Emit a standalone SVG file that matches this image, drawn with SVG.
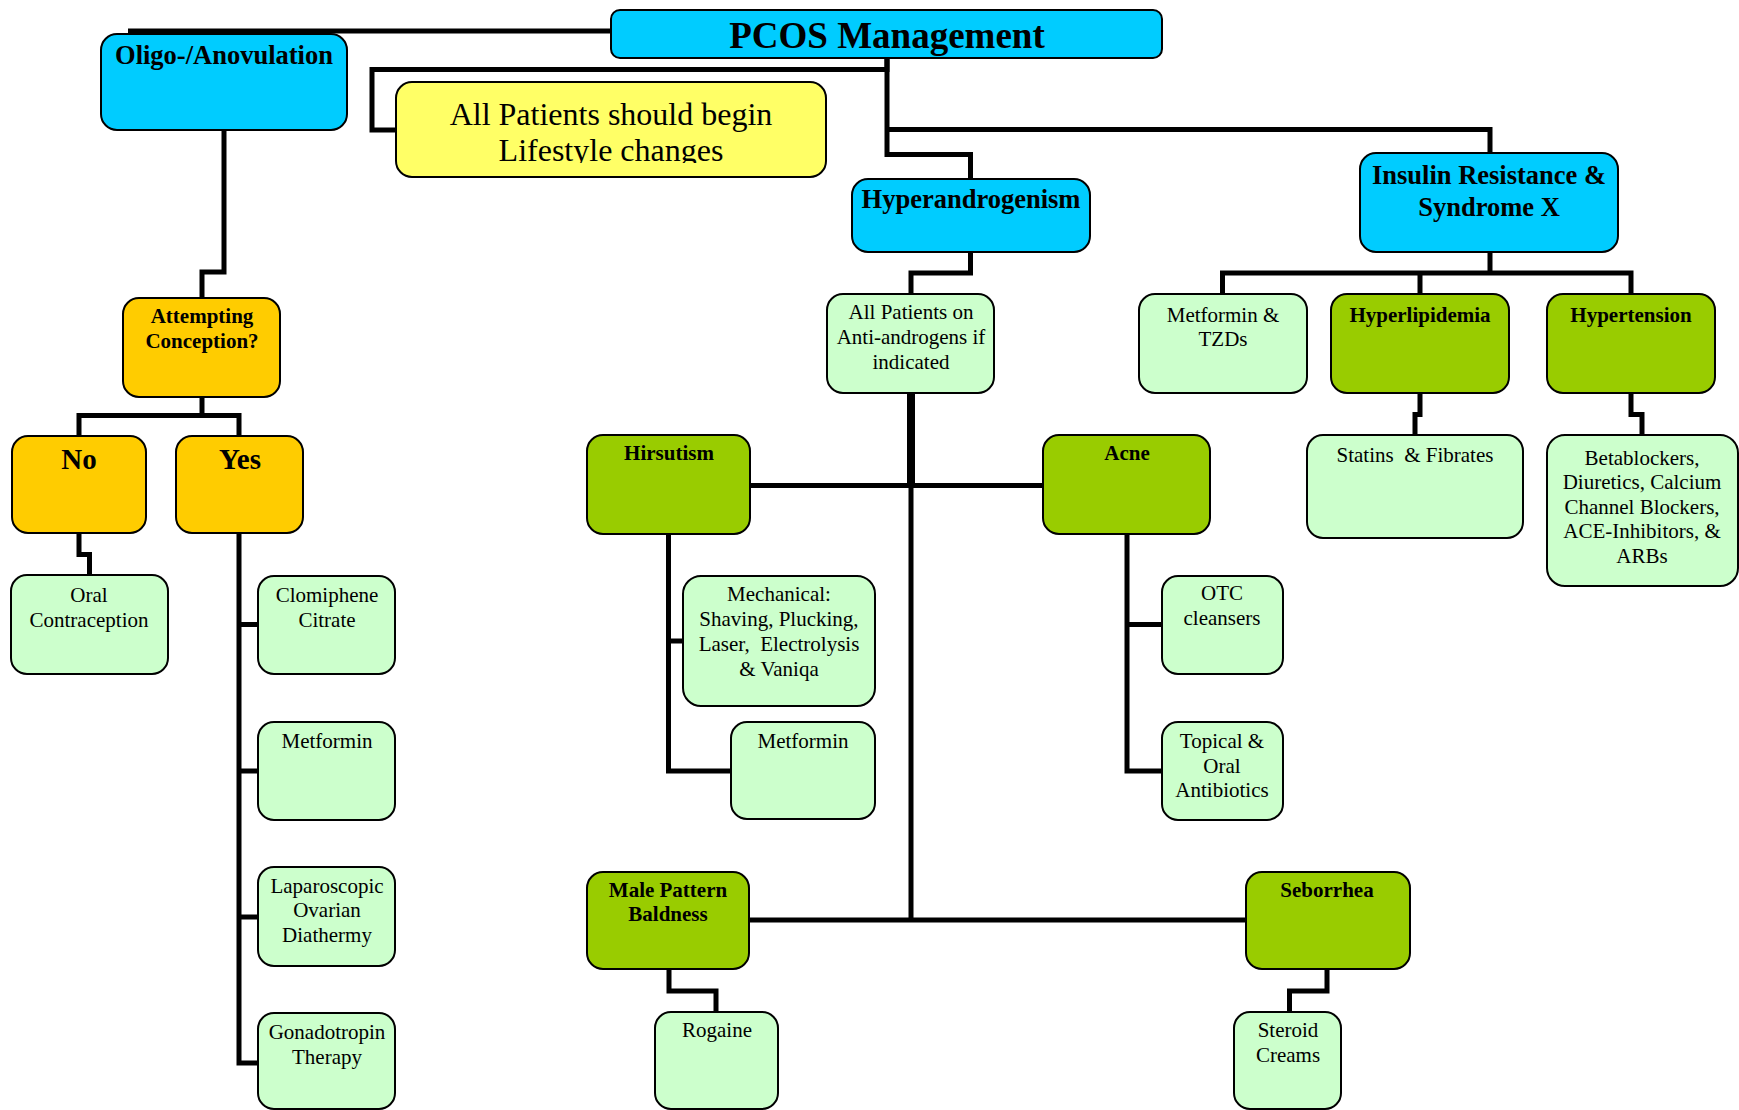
<svg xmlns="http://www.w3.org/2000/svg" width="1739" height="1110" viewBox="0 0 1739 1110">
<style>
.b{stroke:#000;stroke-width:2}
.cy{fill:#00CCFF}.ye{fill:#FFFF66}.or{fill:#FFCC00}.gr{fill:#99CC00}.lg{fill:#CCFFCC}
text{font-family:"Liberation Serif","Times New Roman",serif;fill:#000;text-anchor:middle}
.t{font-size:21px}
.h{font-size:21px;font-weight:bold}
.hc{font-size:26.5px;font-weight:bold}
.c{fill:none;stroke:#000;stroke-width:5;stroke-linejoin:miter}
</style>
<defs>
<clipPath id="lsclip"><rect x="396" y="82" width="430" height="81"/></clipPath>
</defs>
<rect width="1739" height="1110" fill="#fff"/>
<g id="connectors">
<path class="c" d="M128 31 H611"/>
<path class="c" d="M887 58 V69.5 H372 V130 H396"/>
<path class="c" d="M887 58 V154.5 H970.5 V179"/>
<path class="c" d="M887 129.5 H1490 V153"/>
<path class="c" d="M970.5 252 V273 H911 V294"/>
<path class="c" d="M1490 252 V273"/>
<path class="c" d="M1222.5 294 V273 H1631 V294"/>
<path class="c" d="M1420 273 V294"/>
<path class="c" d="M1420 393 V414.5 H1415 V435"/>
<path class="c" d="M1631 393 V414.5 H1642 V435"/>
<path class="c" d="M224 130 V272 H202 V298"/>
<path class="c" d="M202 397 V415.5"/>
<path class="c" d="M79 436 V415.5 H239 V436"/>
<path class="c" d="M79 533 V554.5 H89.5 V575"/>
<path class="c" d="M239 533 V1063 H258"/>
<path class="c" d="M239 624.5 H258"/>
<path class="c" d="M239 771 H258"/>
<path class="c" d="M239 917 H258"/>
<path class="c" d="M911 393 V485" style="stroke-width:8"/>
<path class="c" d="M911 485 V920"/>
<path class="c" d="M750 485.5 H1043"/>
<path class="c" d="M668.5 534 V771 H731"/>
<path class="c" d="M668.5 641 H683"/>
<path class="c" d="M1127 534 V771 H1163"/>
<path class="c" d="M1127 624.5 H1163"/>
<path class="c" d="M749 920 H1246"/>
<path class="c" d="M669 969 V991 H716 V1012"/>
<path class="c" d="M1327 969 V991 H1289.5 V1012"/>
</g>
<g id="pcos"><rect class="b cy" x="611" y="10" width="551" height="48" rx="9"/><text x="887" y="48" style="font-size:37px;font-weight:bold">PCOS Management</text></g>
<g id="oligo"><rect class="b cy" x="101" y="34" width="246" height="96" rx="16"/><text class="hc" x="224" y="64">Oligo-/Anovulation</text></g>
<g id="lifestyle"><rect class="b ye" x="396" y="82" width="430" height="95" rx="16"/><g clip-path="url(#lsclip)"><text x="611" y="125" style="font-size:32px">All Patients should begin</text><text x="611" y="161" style="font-size:32px">Lifestyle changes</text></g></g>
<g id="hyperandrogenism"><rect class="b cy" x="852" y="179" width="238" height="73" rx="16"/><text class="hc" x="971" y="208">Hyperandrogenism</text></g>
<g id="insulin"><rect class="b cy" x="1360" y="153" width="258" height="99" rx="16"/><text class="hc" x="1489" y="184">Insulin Resistance &amp;</text><text class="hc" x="1489" y="216">Syndrome X</text></g>
<g id="attempting"><rect class="b or" x="123" y="298" width="157" height="99" rx="16"/><text class="h" x="202" y="323">Attempting</text><text class="h" x="202" y="348">Conception?</text></g>
<g id="no"><rect class="b or" x="12" y="436" width="134" height="97" rx="16"/><text x="79" y="469" style="font-size:29px;font-weight:bold">No</text></g>
<g id="yes"><rect class="b or" x="176" y="436" width="127" height="97" rx="16"/><text x="240" y="469" style="font-size:29px;font-weight:bold">Yes</text></g>
<g id="oral"><rect class="b lg" x="11" y="575" width="157" height="99" rx="16"/><text class="t" x="89" y="602">Oral</text><text class="t" x="89" y="627">Contraception</text></g>
<g id="clomiphene"><rect class="b lg" x="258" y="576" width="137" height="98" rx="16"/><text class="t" x="327" y="602">Clomiphene</text><text class="t" x="327" y="627">Citrate</text></g>
<g id="metformin1"><rect class="b lg" x="258" y="722" width="137" height="98" rx="16"/><text class="t" x="327" y="748">Metformin</text></g>
<g id="laparoscopic"><rect class="b lg" x="258" y="867" width="137" height="99" rx="16"/><text class="t" x="327" y="893">Laparoscopic</text><text class="t" x="327" y="917">Ovarian</text><text class="t" x="327" y="942">Diathermy</text></g>
<g id="gonadotropin"><rect class="b lg" x="258" y="1013" width="137" height="96" rx="16"/><text class="t" x="327" y="1039">Gonadotropin</text><text class="t" x="327" y="1064">Therapy</text></g>
<g id="antiandrogens"><rect class="b lg" x="827" y="294" width="167" height="99" rx="16"/><text class="t" x="911" y="319">All Patients on</text><text class="t" x="911" y="344">Anti-androgens if</text><text class="t" x="911" y="369">indicated</text></g>
<g id="metformin-tzd"><rect class="b lg" x="1139" y="294" width="168" height="99" rx="16"/><text class="t" x="1223" y="322">Metformin &amp;</text><text class="t" x="1223" y="346">TZDs</text></g>
<g id="hyperlipidemia"><rect class="b gr" x="1331" y="294" width="178" height="99" rx="16"/><text class="h" x="1420" y="322">Hyperlipidemia</text></g>
<g id="hypertension"><rect class="b gr" x="1547" y="294" width="168" height="99" rx="16"/><text class="h" x="1631" y="322">Hypertension</text></g>
<g id="statins"><rect class="b lg" x="1307" y="435" width="216" height="103" rx="16"/><text class="t" x="1415" y="462" xml:space="preserve">Statins  &amp; Fibrates</text></g>
<g id="betablockers"><rect class="b lg" x="1547" y="435" width="191" height="151" rx="18"/><text class="t" x="1642" y="465">Betablockers,</text><text class="t" x="1642" y="489">Diuretics, Calcium</text><text class="t" x="1642" y="514">Channel Blockers,</text><text class="t" x="1642" y="538">ACE-Inhibitors, &amp;</text><text class="t" x="1642" y="563">ARBs</text></g>
<g id="hirsutism"><rect class="b gr" x="587" y="435" width="163" height="99" rx="16"/><text class="h" x="669" y="460">Hirsutism</text></g>
<g id="acne"><rect class="b gr" x="1043" y="435" width="167" height="99" rx="16"/><text class="h" x="1127" y="460">Acne</text></g>
<g id="mechanical"><rect class="b lg" x="683" y="576" width="192" height="130" rx="18"/><text class="t" x="779" y="601">Mechanical:</text><text class="t" x="779" y="626">Shaving, Plucking,</text><text class="t" x="779" y="651" xml:space="preserve">Laser,  Electrolysis</text><text class="t" x="779" y="676">&amp; Vaniqa</text></g>
<g id="metformin2"><rect class="b lg" x="731" y="722" width="144" height="97" rx="16"/><text class="t" x="803" y="748">Metformin</text></g>
<g id="otc"><rect class="b lg" x="1162" y="576" width="121" height="98" rx="16"/><text class="t" x="1222" y="600">OTC</text><text class="t" x="1222" y="625">cleansers</text></g>
<g id="topical"><rect class="b lg" x="1162" y="722" width="121" height="98" rx="16"/><text class="t" x="1222" y="748">Topical &amp;</text><text class="t" x="1222" y="773">Oral</text><text class="t" x="1222" y="797">Antibiotics</text></g>
<g id="male"><rect class="b gr" x="587" y="872" width="162" height="97" rx="16"/><text class="h" x="668" y="897">Male Pattern</text><text class="h" x="668" y="921">Baldness</text></g>
<g id="seborrhea"><rect class="b gr" x="1246" y="872" width="164" height="97" rx="16"/><text class="h" x="1327" y="897">Seborrhea</text></g>
<g id="rogaine"><rect class="b lg" x="655" y="1012" width="123" height="97" rx="16"/><text class="t" x="717" y="1037">Rogaine</text></g>
<g id="steroid"><rect class="b lg" x="1234" y="1012" width="107" height="97" rx="16"/><text class="t" x="1288" y="1037">Steroid</text><text class="t" x="1288" y="1062">Creams</text></g>
</svg>
